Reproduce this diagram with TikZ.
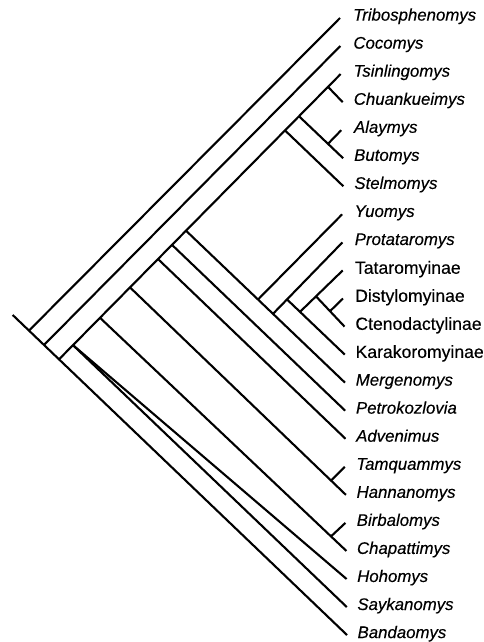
\documentclass[tikz,border=0pt]{standalone}
\usepackage{fontspec}
\setmainfont{Liberation Sans}[FakeBold=0.3]
\usetikzlibrary{calc}
\begin{document}
\begin{tikzpicture}[x=1pt,y=-1pt,
  br/.style={line width=2.1pt},
  gen/.style={anchor=base west, inner sep=0pt, font=\fontsize{16.8}{19}\selectfont\itshape},
  sub/.style={anchor=base west, inner sep=0pt, font=\fontsize{17.6}{20}\selectfont}]
\useasboundingbox (0,0) rectangle (483,642);
% tips
\coordinate (tTri) at (340.0,18.0);
\coordinate (tCoc) at (340.3,46.05);
\coordinate (tTsi) at (340.6,74.1);
\coordinate (tChu) at (342.7,102.15);
\coordinate (tAla) at (341.2,130.2);
\coordinate (tBut) at (343.15,158.25);
\coordinate (tSte) at (343.4,186.3);
\coordinate (tYuo) at (342.1,214.35);
\coordinate (tPro) at (342.4,242.4);
\coordinate (tTat) at (342.7,270.45);
\coordinate (tDis) at (343.0,298.5);
\coordinate (tCte) at (344.5,326.55);
\coordinate (tKar) at (344.8,354.6);
\coordinate (tMer) at (345.0,382.65);
\coordinate (tPet) at (345.2,410.7);
\coordinate (tAdv) at (345.5,438.75);
\coordinate (tTam) at (344.8,466.8);
\coordinate (tHan) at (345.9,494.85);
\coordinate (tBir) at (345.4,522.9);
\coordinate (tCha) at (346.4,550.95);
\coordinate (tHoh) at (346.6,579.0);
\coordinate (tSay) at (346.8,607.05);
\coordinate (tBan) at (347.1,635.1);
% backbone
\coordinate (root) at (12.7,315);
\coordinate (n1) at ($(root)!0.04874!(tBan)$);
\coordinate (n2) at ($(root)!0.09360!(tBan)$);
\coordinate (n3) at ($(root)!0.13846!(tBan)$);
% main ingroup line
\coordinate (nSay) at ($(n3)!0.04972!(tTsi)$);
\coordinate (nBC)  at ($(n3)!0.14560!(tTsi)$);
\coordinate (nTH)  at ($(n3)!0.25213!(tTsi)$);
\coordinate (nAdv) at ($(n3)!0.35156!(tTsi)$);
\coordinate (nPet) at ($(n3)!0.40128!(tTsi)$);
\coordinate (nMer) at ($(n3)!0.45099!(tTsi)$);
\coordinate (nSte) at ($(n3)!0.80256!(tTsi)$);
\coordinate (nBut) at ($(n3)!0.85227!(tTsi)$);
\coordinate (nChu) at ($(n3)!0.95526!(tTsi)$);
% sub nodes
\coordinate (nBir) at ($(nBC)!0.93750!(tCha)$);
\coordinate (nTam) at ($(nTH)!0.93099!(tHan)$);
\coordinate (nAla) at ($(nBut)!0.65685!(tBut)$);
\coordinate (nYuo) at ($(nMer)!0.45283!(tMer)$);
\coordinate (nPro) at ($(nMer)!0.54717!(tMer)$);
\coordinate (nKar) at ($(nPro)!0.20173!(tPro)$);
\coordinate (nTat) at ($(nKar)!0.22491!(tKar)$);
\coordinate (nCte) at ($(nTat)!0.37471!(tTat)$);
\coordinate (nDis) at ($(nCte)!0.49123!(tCte)$);
% branches
\draw[br] (root) -- (tBan);
\draw[br] (n1) -- (tTri);
\draw[br] (n2) -- (tCoc);
\draw[br] (n3) -- (tTsi);
\draw[br] (nSay) -- (tSay);
\draw[br] (nSay) -- (tHoh);
\draw[br] (nBC) -- (tCha);
\draw[br] (nBir) -- (tBir);
\draw[br] (nTH) -- (tHan);
\draw[br] (nTam) -- (tTam);
\draw[br] (nAdv) -- (tAdv);
\draw[br] (nPet) -- (tPet);
\draw[br] (nMer) -- (tMer);
\draw[br] (nYuo) -- (tYuo);
\draw[br] (nPro) -- (tPro);
\draw[br] (nKar) -- (tKar);
\draw[br] (nTat) -- (tTat);
\draw[br] (nCte) -- (tCte);
\draw[br] (nDis) -- (tDis);
\draw[br] (nSte) -- (tSte);
\draw[br] (nBut) -- (tBut);
\draw[br] (nAla) -- (tAla);
\draw[br] (nChu) -- (tChu);
% labels
\node[gen] (lTri) at (353.0,20.6) {Tribosphenomys};
\node[gen] (lCoc) at (353.2,48.65) {Cocomys};
\node[gen] (lTsi) at (353.4,76.7) {Tsinlingomys};
\node[gen] (lChu) at (353.6,104.75) {Chuankueimys};
\node[gen] (lAla) at (353.8,132.8) {Alaymys};
\node[gen] (lBut) at (354.0,160.85) {Butomys};
\node[gen] (lSte) at (354.2,188.9) {Stelmomys};
\node[gen] (lYuo) at (354.4,216.95) {Yuomys};
\node[gen] (lPro) at (354.6,245.0) {Protataromys};
\node[sub] (lTat) at (354.8,273.75) {Tataromyinae};
\node[sub] (lDis) at (355.0,301.8) {Distylomyinae};
\node[sub] (lCte) at (355.2,329.85) {Ctenodactylinae};
\node[sub] (lKar) at (355.4,357.9) {Karakoromyinae};
\node[gen] (lMer) at (355.6,385.6) {Mergenomys};
\node[gen] (lPet) at (355.8,413.65) {Petrokozlovia};
\node[gen] (lAdv) at (356.0,441.7) {Advenimus};
\node[gen] (lTam) at (356.2,469.75) {Tamquammys};
\node[gen] (lHan) at (356.4,497.8) {Hannanomys};
\node[gen] (lBir) at (356.6,525.85) {Birbalomys};
\node[gen] (lCha) at (356.8,553.9) {Chapattimys};
\node[gen] (lHoh) at (357.0,581.95) {Hohomys};
\node[gen] (lSay) at (357.2,610.0) {Saykanomys};
\node[gen] (lBan) at (357.4,638.05) {Bandaomys};
\end{tikzpicture}
\end{document}
